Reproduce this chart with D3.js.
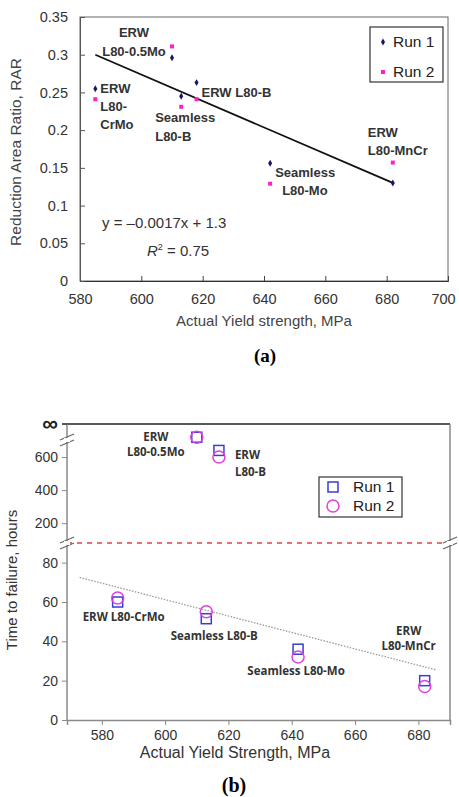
<!DOCTYPE html>
<html>
<head>
<meta charset="utf-8">
<script src="https://cdnjs.cloudflare.com/ajax/libs/d3/7.8.5/d3.min.js"></script>
<style>
  body { margin: 0; background: #fff; }
  svg { display: block; font-family: Arial, "Liberation Sans", sans-serif; }
</style>
</head>
<body>
<div></div>
<script>
// ---- data, panel (a): reduction area ratio
var yieldA = [585, 610, 613, 618, 642, 682];
var rarRun1 = [0.255, 0.296, 0.245, 0.263, 0.156, 0.130];
var rarRun2 = [0.241, 0.311, 0.231, 0.241, 0.129, 0.157];
var trendA = [[585, 0.300], [682, 0.130]];
var labelsA = [["ERW", "L80-", "CrMo"], ["ERW", "L80-0.5Mo"], ["Seamless", "L80-B"],
               ["ERW L80-B"], ["Seamless", "L80-Mo"], ["ERW", "L80-MnCr"]];
var xTicksA = [580, 600, 620, 640, 660, 680, 700];
var yTicksA = [0, 0.05, 0.1, 0.15, 0.2, 0.25, 0.3, 0.35];

// ---- data, panel (b): time to failure
var yieldB = [585, 610, 613, 617, 642, 682];
var ttfRun1 = [60, 720, 51.5, 640, 36, 20];
var ttfRun2 = [62, 720, 55, 600, 32, 17];
var trendB = [[573, 72.5], [685.5, 25.5]];
var labelsB = [["ERW L80-CrMo"], ["ERW", "L80-0.5Mo"], ["Seamless L80-B"],
               ["ERW", "L80-B"], ["Seamless L80-Mo"], ["ERW", "L80-MnCr"]];
var xTicksB = [580, 600, 620, 640, 660, 680];
var yTicksLow = [0, 20, 40, 60, 80];
var yTicksHigh = [200, 400, 600];

var svg = d3.select("div").append("svg")
    .attr("width", 459)
    .attr("height", 797);

// ================= panel (a) =================
var a = {left: 80, top: 17, right: 448, bottom: 281};
var xA = d3.scaleLinear().domain([580, 700]).range([a.left, a.right]);
var yA = d3.scaleLinear().domain([0, 0.35]).range([a.bottom, a.top]);

var gA = svg.append("g");

gA.append("rect")
    .attr("x", a.left).attr("y", a.top)
    .attr("width", a.right - a.left).attr("height", a.bottom - a.top)
    .attr("fill", "none").attr("stroke", "#666").attr("stroke-width", 1);

gA.append("g")
    .attr("transform", "translate(0," + a.bottom + ")")
    .call(d3.axisBottom(xA).tickValues(xTicksA).tickSize(-5).tickPadding(13)
          .tickFormat(d3.format("d")))
    .call(function(g) {
        g.select(".domain").attr("stroke", "#333");
        g.selectAll(".tick line").attr("stroke", "#444");
        g.selectAll("text").attr("font-size", 14.5).attr("fill", "#333")
            .attr("dx", function(d) { return d === 700 ? -5 : 0; });
    });

gA.append("g")
    .attr("transform", "translate(" + a.left + ",0)")
    .call(d3.axisLeft(yA).tickValues(yTicksA).tickSize(-5).tickPadding(12)
          .tickFormat(function(d) { return d === 0 ? "0" : String(+d.toFixed(2)); }))
    .call(function(g) {
        g.select(".domain").attr("stroke", "#555");
        g.selectAll(".tick line").attr("stroke", "#555");
        g.selectAll("text").attr("font-size", 14.5).attr("fill", "#333");
    });

gA.append("text")
    .attr("transform", "translate(21," + 152 + ") rotate(-90)")
    .attr("text-anchor", "middle")
    .attr("font-size", 15.5).attr("fill", "#444")
    .text("Reduction Area Ratio, RAR");

gA.append("text")
    .attr("x", (a.left + a.right) / 2).attr("y", 326)
    .attr("text-anchor", "middle")
    .attr("font-size", 15).attr("fill", "#444")
    .text("Actual Yield strength, MPa");

svg.append("text")
    .attr("x", 265).attr("y", 362)
    .attr("text-anchor", "middle")
    .attr("font-family", "'Liberation Serif', 'Times New Roman', serif")
    .attr("font-weight", "bold").attr("font-size", 19)
    .text("(a)");

// trend line (a)
gA.append("line")
    .attr("x1", xA(trendA[0][0])).attr("y1", yA(trendA[0][1]))
    .attr("x2", xA(trendA[1][0])).attr("y2", yA(trendA[1][1]))
    .attr("stroke", "#111").attr("stroke-width", 1.8);

// run 2 markers (magenta squares)
gA.selectAll(".r2").data(yieldA).enter().append("rect")
    .attr("x", function(d) { return xA(d) - 2; })
    .attr("y", function(d, i) { return yA(rarRun2[i]) - 2; })
    .attr("width", 4).attr("height", 4)
    .attr("fill", "#ff1fc8");

// run 1 markers (navy diamonds)
var diamond = d3.symbol().type(d3.symbolDiamond).size(14);
gA.selectAll(".r1").data(yieldA).enter().append("path")
    .attr("d", diamond)
    .attr("transform", function(d, i) {
        return "translate(" + xA(d) + "," + yA(rarRun1[i]) + ")";
    })
    .attr("fill", "#16166a");

// point labels (a): offsets from the Run 1 point
var offA = [
    {dx: 5, dy: [0, 18, 36], anchor: "start"},
    {dx: -38, dy: [-25, -6], anchor: "middle"},
    {dx: -26, dy: [21, 40], anchor: "start"},
    {dx: 5, dy: [10], anchor: "start"},
    {dx: 5, dy: [9, 27], anchor: "start", indent: 7},
    {dx: -25, dy: [-50, -32], anchor: "start"}
];
labelsA.forEach(function(lines, i) {
    var px = xA(yieldA[i]), py = yA(rarRun1[i]), o = offA[i];
    lines.forEach(function(t, j) {
        gA.append("text")
            .attr("x", px + o.dx + (j > 0 && o.indent ? o.indent : 0))
            .attr("y", py + o.dy[j])
            .attr("dy", "0.35em")
            .attr("text-anchor", o.anchor)
            .attr("font-size", 13).attr("font-weight", "bold").attr("fill", "#333")
            .text(t);
    });
});

// equation
gA.append("text")
    .attr("x", 102).attr("y", 228)
    .attr("font-size", 15).attr("fill", "#333")
    .text("y = \u20130.0017x + 1.3");
var r2 = gA.append("text")
    .attr("x", 147).attr("y", 256)
    .attr("font-size", 15).attr("fill", "#333");
r2.append("tspan").attr("font-style", "italic").text("R");
r2.append("tspan").attr("font-size", 9).attr("dy", -6).text("2");
r2.append("tspan").attr("dy", 6).text(" = 0.75");

// legend (a)
var legA = gA.append("g").attr("transform", "translate(370,27)");
legA.append("rect").attr("width", 73).attr("height", 55)
    .attr("fill", "#fff").attr("stroke", "#333").attr("stroke-width", 1.2);
legA.append("path").attr("d", diamond).attr("transform", "translate(13,15)").attr("fill", "#16166a");
legA.append("rect").attr("x", 11).attr("y", 43).attr("width", 4).attr("height", 4).attr("fill", "#ff1fc8");
legA.append("text").attr("x", 23).attr("y", 15).attr("dy", "0.35em")
    .attr("font-size", 15.5).attr("fill", "#222").text("Run 1");
legA.append("text").attr("x", 23).attr("y", 45).attr("dy", "0.35em")
    .attr("font-size", 15.5).attr("fill", "#222").text("Run 2");

// ================= panel (b) =================
var b = {left: 67, top: 424, right: 450, bottom: 720, brk: 543};
var xB = d3.scaleLinear().domain([569, 690]).range([b.left, b.right]);
var yLow = d3.scaleLinear().domain([0, 90]).range([b.bottom, b.brk]);
var yHigh = d3.scaleLinear().domain([80, 800]).range([b.brk, b.top]);
function yB(v) { return v > 90 ? yHigh(v) : yLow(v); }

var gB = svg.append("g");
var axisGray = "#8a8a8a";

// frame
gB.append("line").attr("x1", b.left).attr("x2", b.right).attr("y1", b.top).attr("y2", b.top)
    .attr("stroke", "#222").attr("stroke-width", 1.5);
gB.append("line").attr("x1", b.right).attr("x2", b.right).attr("y1", b.top).attr("y2", b.bottom)
    .attr("stroke", axisGray).attr("stroke-width", 1.5);
gB.append("line").attr("x1", b.left).attr("x2", b.left).attr("y1", b.top).attr("y2", b.bottom)
    .attr("stroke", axisGray).attr("stroke-width", 1.5);

// red dashed break line
gB.append("line").attr("x1", b.left).attr("x2", b.right).attr("y1", b.brk).attr("y2", b.brk)
    .attr("stroke", "#e8413c").attr("stroke-width", 1.5).attr("stroke-dasharray", "5,5");

gB.append("g")
    .attr("transform", "translate(0," + b.bottom + ")")
    .call(d3.axisBottom(xB).tickValues(xTicksB).tickSize(5).tickPadding(5)
          .tickFormat(d3.format("d")))
    .call(function(g) {
        g.select(".domain").attr("stroke", axisGray).attr("stroke-width", 1.5);
        g.selectAll(".tick line").attr("stroke", axisGray);
        g.selectAll("text").attr("font-size", 14).attr("fill", "#333");
    });

[[yLow, yTicksLow], [yHigh, yTicksHigh]].forEach(function(s) {
    gB.append("g")
        .attr("transform", "translate(" + b.left + ",0)")
        .call(d3.axisLeft(s[0]).tickValues(s[1]).tickSize(5).tickPadding(4))
        .call(function(g) {
            g.select(".domain").remove();
            g.selectAll(".tick line").attr("stroke", axisGray);
            g.selectAll("text").attr("font-size", 14).attr("fill", "#333");
        });
});

// infinity at the top
gB.append("text").attr("x", 58).attr("y", b.top).attr("dy", "0.32em")
    .attr("text-anchor", "end").attr("font-size", 22).attr("font-weight", "bold")
    .attr("fill", "#222").text("\u221e");
gB.append("line").attr("x1", b.left - 5).attr("x2", b.left).attr("y1", b.top).attr("y2", b.top)
    .attr("stroke", "#222").attr("stroke-width", 1.5);

// axis break marks
function breakMark(x, y) {
    [-3, 3].forEach(function(o) {
        gB.append("line")
            .attr("x1", x - 7).attr("y1", y + o + 3)
            .attr("x2", x + 7).attr("y2", y + o - 3)
            .attr("stroke", "#666").attr("stroke-width", 1.2);
    });
    gB.append("rect").attr("x", x - 3).attr("y", y - 2).attr("width", 6).attr("height", 4)
        .attr("fill", "#fff");
}
breakMark(b.left, 440);
breakMark(b.left, b.brk);
breakMark(b.right, b.brk);

// trend line (b)
gB.append("line")
    .attr("x1", xB(trendB[0][0])).attr("y1", yB(trendB[0][1]))
    .attr("x2", xB(trendB[1][0])).attr("y2", yB(trendB[1][1]))
    .attr("stroke", "#999").attr("stroke-width", 1.3).attr("stroke-dasharray", "1.5,1.5");

// run 1 squares, run 2 circles
gB.selectAll(".s1").data(yieldB).enter().append("rect")
    .attr("x", function(d) { return xB(d) - 5; })
    .attr("y", function(d, i) { return yB(ttfRun1[i]) - 5; })
    .attr("width", 10).attr("height", 10)
    .attr("fill", "none").attr("stroke", "#3b3bd6").attr("stroke-width", 1.5);
gB.selectAll(".c2").data(yieldB).enter().append("circle")
    .attr("cx", function(d) { return xB(d); })
    .attr("cy", function(d, i) { return yB(ttfRun2[i]); })
    .attr("r", 6)
    .attr("fill", "none").attr("stroke", "#e040e0").attr("stroke-width", 1.5);

// point labels (b): offsets from the Run 1 point
var offB = [
    {dx: 6, dy: [15], anchor: "middle"},
    {dx: -41, dy: [0, 15], anchor: "middle"},
    {dx: 8, dy: [17], anchor: "middle"},
    {dx: 16, dy: [5, 22], anchor: "start"},
    {dx: -2, dy: [22], anchor: "middle"},
    {dx: -16, dy: [-50, -35], anchor: "middle"}
];
labelsB.forEach(function(lines, i) {
    var px = xB(yieldB[i]), py = yB(ttfRun1[i]), o = offB[i];
    lines.forEach(function(t, j) {
        gB.append("text")
            .attr("x", px + o.dx).attr("y", py + o.dy[j])
            .attr("dy", "0.35em")
            .attr("text-anchor", o.anchor)
            .attr("font-family", "'Open Sans', sans-serif")
            .attr("font-size", 11.5).attr("font-weight", "bold").attr("fill", "#333")
            .text(t);
    });
});

// titles (b)
gB.append("text")
    .attr("transform", "translate(17,580) rotate(-90)")
    .attr("text-anchor", "middle")
    .attr("font-size", 15).attr("fill", "#333")
    .text("Time to failure, hours");
gB.append("text")
    .attr("x", 235).attr("y", 758)
    .attr("text-anchor", "middle")
    .attr("font-size", 16).attr("fill", "#333")
    .text("Actual Yield Strength, MPa");
svg.append("text")
    .attr("x", 234).attr("y", 792)
    .attr("text-anchor", "middle")
    .attr("font-family", "'Liberation Serif', 'Times New Roman', serif")
    .attr("font-weight", "bold").attr("font-size", 20)
    .text("(b)");

// legend (b)
var legB = gB.append("g").attr("transform", "translate(319,477)");
legB.append("rect").attr("width", 83).attr("height", 40)
    .attr("fill", "#fff").attr("stroke", "#333").attr("stroke-width", 1.2);
legB.append("rect").attr("x", 9).attr("y", 5).attr("width", 10).attr("height", 10)
    .attr("fill", "none").attr("stroke", "#3b3bd6").attr("stroke-width", 1.5);
legB.append("circle").attr("cx", 14).attr("cy", 29).attr("r", 6)
    .attr("fill", "none").attr("stroke", "#e040e0").attr("stroke-width", 1.5);
legB.append("text").attr("x", 34).attr("y", 10).attr("dy", "0.35em")
    .attr("font-size", 15.5).attr("fill", "#222").text("Run 1");
legB.append("text").attr("x", 34).attr("y", 29).attr("dy", "0.35em")
    .attr("font-size", 15.5).attr("fill", "#222").text("Run 2");
</script>
</body>
</html>
